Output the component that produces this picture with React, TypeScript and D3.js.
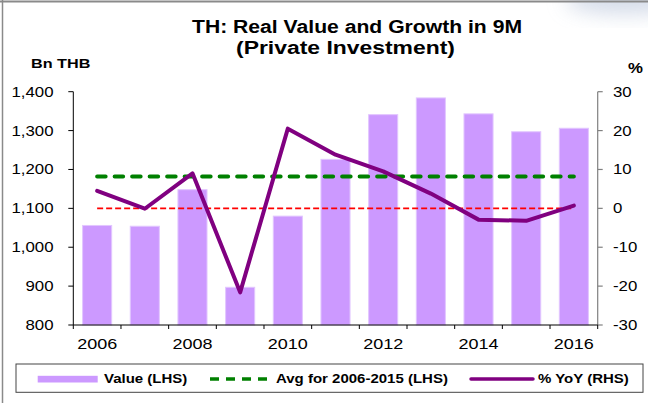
import React from 'react';
import * as d3 from 'd3';

const years = [2006, 2007, 2008, 2009, 2010, 2011, 2012, 2013, 2014, 2015, 2016];
const values = [1056, 1054, 1148, 897, 1080, 1226, 1341, 1384, 1343, 1297, 1306];
const yoy = [4.5, -0.1, 9.0, -21.6, 20.5, 13.8, 9.5, 3.8, -2.9, -3.2, 0.7];
const avgValue = 1182;
const zeroRefValue = 1100;
const leftTicks = [800, 900, 1000, 1100, 1200, 1300, 1400];
const rightTicks = [-30, -20, -10, 0, 10, 20, 30];
const xLabelYears = [2006, 2008, 2010, 2012, 2014, 2016];
const titleLines = ['TH: Real Value and Growth in 9M', '(Private Investment)'];
const legendLabels = ['Value (LHS)', 'Avg for 2006-2015 (LHS)', '% YoY (RHS)'];

const W = 648;
const H = 403;
const L = 73.3;
const R = 597.7;
const TOP = 91.7;
const BOT = 325;
const SX = 1.2;
const FONT = 'Liberation Sans, Arial, Helvetica, sans-serif';

type TP = { x: number; y: number; children: React.ReactNode; anchor?: string; size?: number; bold?: boolean; fill?: string };
function T({ x, y, children, anchor = 'start', size = 14, bold = false, fill = '#000' }: TP) {
  return (
    <text
      transform={`translate(${x},${y}) scale(${SX},1)`}
      textAnchor={anchor as any}
      fontSize={size}
      fontWeight={bold ? 'bold' : 'normal'}
      fontFamily={FONT}
      fill={fill}
    >
      {children}
    </text>
  );
}

export default function App() {
  const xSlot = d3.scaleBand<number>().domain(years).range([L, R]).padding(0);
  const xBar = d3.scaleBand<number>().domain(years).range([L, R]).paddingInner(0.39).paddingOuter(0.195);
  const cx = (yr: number) => (xSlot(yr) as number) + xSlot.bandwidth() / 2;
  const yL = d3.scaleLinear().domain([800, 1400]).range([BOT, TOP]);
  const yR = d3.scaleLinear().domain([-30, 30]).range([BOT, TOP]);
  const fmt = d3.format(',');

  const linePath = d3
    .line<number>()
    .x((_, i) => cx(years[i]))
    .y((d) => yR(d))(yoy) as string;

  const boundaries = years.map((yr) => xSlot(yr) as number).concat([R]);
  const x0 = cx(years[0]);
  const x1 = cx(years[years.length - 1]);

  return (
    <div style={{ position: 'absolute', left: 0, top: 0 }}>
      <svg width={W} height={H} style={{ display: 'block', background: '#fff' }}>
        <defs>
          <filter id="blur" x="-50%" y="-50%" width="200%" height="200%">
            <feGaussianBlur stdDeviation="10" />
          </filter>
        </defs>
        <rect x={0} y={0} width={W} height={H} fill="#fff" />
        <ellipse cx={625} cy={0} rx={60} ry={14} fill="#c9d2e3" filter="url(#blur)" opacity={0.8} />
        {/* frame */}
        <line x1={0} y1={1.5} x2={W} y2={1.5} stroke="#8a8a8a" strokeWidth={2} />
        <line x1={2.5} y1={0} x2={2.5} y2={H} stroke="#8a8a8a" strokeWidth={1.5} />

        {/* title */}
        <text x={192} y={33} fontFamily={FONT} fontWeight="bold" fontSize={18} textLength={330} lengthAdjust="spacingAndGlyphs">
          {titleLines[0]}
        </text>
        <text x={236} y={53.5} fontFamily={FONT} fontWeight="bold" fontSize={18} textLength={219} lengthAdjust="spacingAndGlyphs">
          {titleLines[1]}
        </text>

        <T x={31} y={68.3} size={13.5} bold>Bn THB</T>
        <T x={628} y={72.7} size={14} bold>%</T>

        {/* bars */}
        {years.map((yr, i) => (
          <rect
            key={yr}
            x={xBar(yr) as number}
            y={yL(values[i])}
            width={xBar.bandwidth()}
            height={BOT - yL(values[i])}
            fill="#CC99FF"
            stroke="#E2C6FF"
            strokeWidth={1}
          />
        ))}

        {/* reference lines */}
        <line x1={x0} x2={x1} y1={yL(avgValue)} y2={yL(avgValue)} stroke="#008000" strokeWidth={4} strokeDasharray="8.5,9" strokeLinecap="round" />
        <line x1={x0} x2={x1} y1={yL(zeroRefValue)} y2={yL(zeroRefValue)} stroke="#FF0000" strokeWidth={1.6} strokeDasharray="6,3" />

        {/* YoY line */}
        <path d={linePath} fill="none" stroke="#800080" strokeWidth={4} strokeLinejoin="round" strokeLinecap="round" />

        {/* left axis */}
        <line x1={L} x2={L} y1={TOP} y2={BOT} stroke="#000" strokeWidth={1} />
        {leftTicks.map((t) => (
          <g key={t}>
            <line x1={L - 5} x2={L} y1={yL(t)} y2={yL(t)} stroke="#000" strokeWidth={1} />
            <T x={53.5} y={yL(t) + 5} anchor="end" size={14}>{fmt(t)}</T>
          </g>
        ))}

        {/* right axis */}
        <line x1={R} x2={R} y1={TOP} y2={BOT} stroke="#808080" strokeWidth={1.2} />
        {rightTicks.map((t) => (
          <g key={t}>
            <line x1={R} x2={R + 5} y1={yR(t)} y2={yR(t)} stroke="#808080" strokeWidth={1.2} />
            <T x={613} y={yR(t) + 5} anchor="start" size={14}>{String(t)}</T>
          </g>
        ))}

        {/* bottom axis */}
        <line x1={L} x2={R} y1={BOT} y2={BOT} stroke="#000" strokeWidth={1} />
        {boundaries.map((b, i) => (
          <line key={i} x1={b} x2={b} y1={BOT} y2={BOT + 4} stroke="#000" strokeWidth={1} />
        ))}
        {xLabelYears.map((yr) => (
          <T key={yr} x={cx(yr)} y={349.3} anchor="middle" size={15}>{String(yr)}</T>
        ))}

        {/* legend */}
        <rect x={16} y={364} width={627} height={28.3} fill="#fff" stroke="#444" strokeWidth={1} />
        <rect x={37.7} y={375.8} width={60} height={6.7} fill="#CC99FF" />
        <T x={104} y={383.3} size={12.5} bold>{legendLabels[0]}</T>
        <line x1={210} x2={270} y1={379} y2={379} stroke="#008000" strokeWidth={3.5} strokeDasharray="9,7" strokeLinecap="butt" />
        <T x={276} y={383.3} size={12.5} bold>{legendLabels[1]}</T>
        <line x1={471} x2={533} y1={379} y2={379} stroke="#800080" strokeWidth={3.5} strokeLinecap="round" />
        <T x={538} y={383.3} size={12.5} bold>{legendLabels[2]}</T>
      </svg>
    </div>
  );
}
